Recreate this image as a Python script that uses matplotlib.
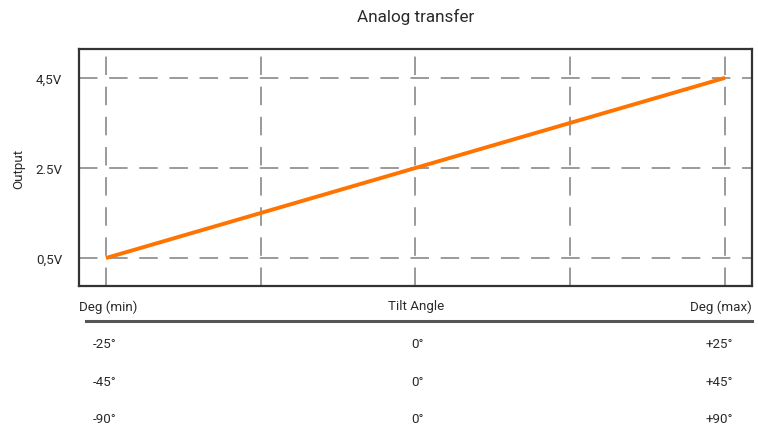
import matplotlib
matplotlib.use("Agg")
import matplotlib.pyplot as plt

plt.rcParams['font.family'] = ['Roboto', 'DejaVu Sans']

# Data
x_pos = [0, 1, 2, 3, 4]
line_x = [0, 4]
line_y = [0.5, 4.5]
y_ticks = [0.5, 2.5, 4.5]
y_tick_labels = ["0,5V", "2.5V", "4,5V"]
header = ["Deg (min)", "Tilt Angle", "Deg (max)"]
rows = [["-25°", "0°", "+25°"],
        ["-45°", "0°", "+45°"],
        ["-90°", "0°", "+90°"]]

W, H = 758, 431
TC = '#2a2a2a'
FS = 9.6
fig = plt.figure(figsize=(W/100, H/100), dpi=100)
ax = fig.add_axes([79/W, 1-287/H, (752-79)/W, (287-50)/H])

ax.plot(line_x, line_y, color='#ff7300', lw=2.8, solid_capstyle='butt', zorder=3)
ax.set_xlim(-0.174, 4.174)
ax.set_ylim(-0.12, 5.14)
ax.set_xticks(x_pos)
ax.set_xticklabels([])
ax.set_yticks(y_ticks)
ax.set_yticklabels(y_tick_labels, fontsize=FS, color=TC)
ax.tick_params(length=0, pad=12)
ax.grid(True, color='#9a9a9a', lw=1.4, linestyle=(0, (9.5, 6)))
for s in ax.spines.values():
    s.set_color('#333333')
    s.set_linewidth(1.6)
ax.set_ylabel("Output", fontsize=FS, color=TC, labelpad=7)

fig.text(416/W, 1-17/H, "Analog transfer", ha='center', va='center', fontsize=12.3, color=TC)

# table below
hy = 1-307/H
fig.text(79/W, hy, header[0], ha='left', va='center', fontsize=FS, color=TC)
fig.text(416/W, hy, header[1], ha='center', va='center', fontsize=FS, color=TC)
fig.text(752/W, hy, header[2], ha='right', va='center', fontsize=FS, color=TC)
fig.add_artist(plt.Line2D([86/W, 752/W], [1-322/H, 1-322/H], color='#555555', lw=2.2))
row_ys = [345, 383, 420]
for r, yy in zip(rows, row_ys):
    y = 1-yy/H
    fig.text(93/W, y, r[0], ha='left', va='center', fontsize=FS, color=TC)
    fig.text(418/W, y, r[1], ha='center', va='center', fontsize=FS, color=TC)
    fig.text(733/W, y, r[2], ha='right', va='center', fontsize=FS, color=TC)

fig.savefig("out.png", dpi=100, facecolor='white')
